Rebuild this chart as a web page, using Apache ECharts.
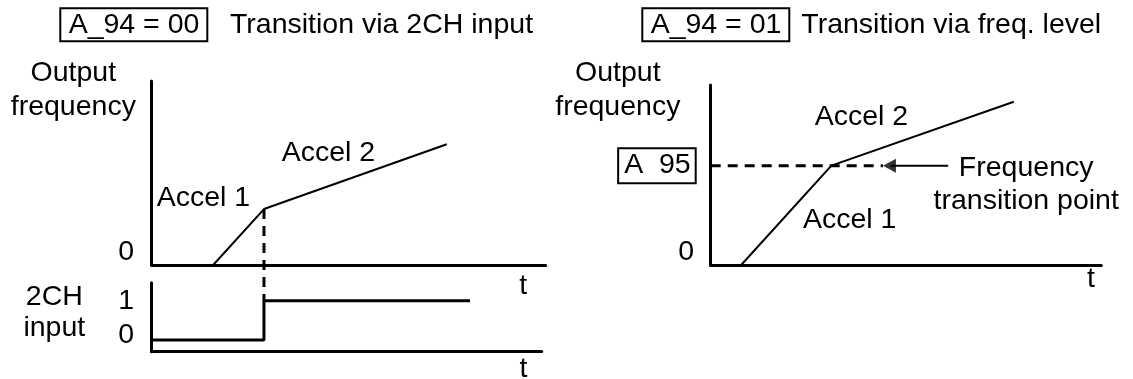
<!DOCTYPE html>
<html>
<head>
<meta charset="utf-8">
<script src="https://cdn.jsdelivr.net/npm/echarts@6/dist/echarts.min.js"></script>
<style>
  html, body { margin: 0; padding: 0; background: #fff; }
  #chart { width: 1133px; height: 379px; }
</style>
</head>
<body>
<div id="chart"></div>
<script>
// ---- Data (arbitrary time / frequency units) ----
// Left panel: A_94 = 00, transition via 2CH input
const leftAccelTime = [15.6, 28.5, 74.9];
const leftAccelFreq = [0, 30.4, 65.6];
const leftSwitchTime = 28.5;          // moment 2CH goes high
const leftSwitchFreq = 30.4;
const leftSwitchDashEnd = -19.4;      // dashed marker reaches down to the 2CH trace
const chTime = [0, 28.5, 28.5, 80.8];
const chLevel = [0, 0, 1, 1];
const leftFreqTicks = [0];
const leftFreqTickLabels = ['0'];
const chTicks = [0, 1];
const chTickLabels = ['0', '1'];

// Right panel: A_94 = 01, transition via frequency level
const rightAccelTime = [7.8, 30.9, 77.6];
const rightAccelFreq = [0, 55.2, 90.7];
const transitionFreq = 55.2;
const transitionDashEnd = 44.1;       // dashed level line ends at arrow tip
const arrowTail = 60.8;
const arrowTip = 44.1;
const rightFreqTicks = [0, 55.2];
const rightFreqTickLabels = ['0', 'A  95'];

// Text
const titles = [
  { box: 'A_94 = 00', text: 'Transition via 2CH input' },
  { box: 'A_94 = 01', text: 'Transition via freq. level' }
];
const yTitle = 'Output\nfrequency';
const chTitle = '2CH\ninput';
const timeName = 't';
const accel1 = 'Accel 1';
const accel2 = 'Accel 2';
const transitionNote = 'Frequency\ntransition point';

// ---- Chart ----
const FONT = '"Liberation Sans", Arial, Helvetica, sans-serif';
const FS = 28.5;
const BLACK = '#000';

function pairs(xs, ys) { return xs.map((x, i) => [x, ys[i]]); }

function xAxisCfg(gridIndex, max) {
  return {
    type: 'value', gridIndex, min: 0, max,
    axisLine: { show: true, onZero: false, lineStyle: { color: BLACK, width: 3 } },
    axisTick: { show: false }, axisLabel: { show: false }, splitLine: { show: false }
  };
}

function yAxisCfg(gridIndex, min, max, ticks, labels, margin, styleFor) {
  return {
    type: 'value', gridIndex, min, max,
    axisLine: { show: true, onZero: false, lineStyle: { color: BLACK, width: 3 } },
    axisTick: { show: false }, splitLine: { show: false },
    axisLabel: {
      show: true, customValues: ticks, margin,
      fontFamily: FONT, fontSize: FS, color: BLACK,
      formatter: function (v) {
        let idx = ticks.findIndex(t => Math.abs(t - v) < 1e-6);
        if (idx < 0) return '';
        return '{' + styleFor(idx) + '|' + labels[idx] + '}';
      },
      rich: {
        up: { fontFamily: FONT, fontSize: FS, color: BLACK, padding: [0, 0, 25, 0] },
        upR: { fontFamily: FONT, fontSize: FS, color: BLACK, padding: [0, 1.5, 25, 0] },
        mid: { fontFamily: FONT, fontSize: FS, color: BLACK },
        low: { fontFamily: FONT, fontSize: FS, color: BLACK, padding: [0, 0, 10, 0] },
        box: { fontFamily: FONT, fontSize: FS, color: BLACK, lineHeight: 28,
          borderColor: BLACK, borderWidth: 2, padding: [3, 5, 3, 6] }
      }
    }
  };
}

function lineSeries(xi, yi, data, width, dashed, clip) {
  return {
    type: 'line', xAxisIndex: xi, yAxisIndex: yi, data,
    showSymbol: false, symbol: 'none', silent: true, clip: clip !== false,
    lineStyle: { color: BLACK, width, type: dashed ? [10, 7] : 'solid', cap: 'butt' },
    emphasis: { disabled: true }, z: dashed ? 2 : 3
  };
}

function txt(text, x, y, align, lh) {
  return { type: 'text', x, y, silent: true, style: {
    text, font: FS + 'px ' + FONT, fill: BLACK, align, verticalAlign: 'middle',
    lineHeight: lh || FS } };
}

const chart = echarts.init(document.getElementById('chart'), null, { renderer: 'canvas' });

chart.setOption({
  backgroundColor: '#fff',
  animation: false,
  grid: [
    { left: 151.7, top: 81, width: 394, height: 184, outerBoundsMode: 'none', containLabel: false },
    { left: 151.7, top: 282.7, width: 390, height: 69, outerBoundsMode: 'none', containLabel: false },
    { left: 710.7, top: 85, width: 390.6, height: 180, outerBoundsMode: 'none', containLabel: false }
  ],
  xAxis: [
    xAxisCfg(0, 100),
    xAxisCfg(1, 99),
    xAxisCfg(2, 100)
  ],
  yAxis: [
    yAxisCfg(0, 0, 100, leftFreqTicks, leftFreqTickLabels, 17.5, () => 'up'),
    yAxisCfg(1, -0.3, 1.46, chTicks, chTickLabels, 17.5, i => chTicks[i] === 0 ? 'low' : 'mid'),
    yAxisCfg(2, 0, 100, rightFreqTicks, rightFreqTickLabels, 15, i => rightFreqTicks[i] === 0 ? 'upR' : 'box')
  ],
  series: [
    lineSeries(0, 0, pairs(leftAccelTime, leftAccelFreq), 2, false),
    lineSeries(0, 0, [[leftSwitchTime, leftSwitchFreq], [leftSwitchTime, leftSwitchDashEnd]], 3, true, false),
    lineSeries(1, 1, pairs(chTime, chLevel), 3, false),
    lineSeries(2, 2, pairs(rightAccelTime, rightAccelFreq), 2, false),
    lineSeries(2, 2, [[0, transitionFreq], [transitionDashEnd, transitionFreq]], 3, true),
    lineSeries(2, 2, [[arrowTail, transitionFreq], [arrowTip + 2, transitionFreq]], 2, false),
    {
      type: 'scatter', xAxisIndex: 2, yAxisIndex: 2, silent: true,
      data: [[arrowTip, transitionFreq]],
      symbol: 'triangle', symbolRotate: 90, symbolSize: [14, 13], symbolOffset: [6.5, 0],
      itemStyle: { color: BLACK }, emphasis: { disabled: true }, z: 4
    }
  ],
  graphic: [
    { type: 'rect', silent: true, shape: { x: 60.3, y: 8.3, width: 147, height: 33 },
      style: { fill: 'none', stroke: BLACK, lineWidth: 2 } },
    { type: 'rect', silent: true, shape: { x: 642.3, y: 8.3, width: 147, height: 33 },
      style: { fill: 'none', stroke: BLACK, lineWidth: 2 } },
    txt(titles[0].box, 134, 25, 'center'),
    txt(titles[0].text, 230, 25, 'left'),
    txt(titles[1].box, 716, 25, 'center'),
    txt(titles[1].text, 801.3, 25, 'left'),
    txt(yTitle, 73.3, 90, 'center', 33.4),
    txt(yTitle, 617.8, 90, 'center', 33.4),
    txt(chTitle, 54.3, 312.5, 'center', 31.6),
    txt(accel1, 156.7, 198.3, 'left'),
    txt(accel2, 281.7, 152.7, 'left'),
    txt(accel2, 814.7, 117.3, 'left'),
    txt(accel1, 803, 220, 'left'),
    txt(transitionNote, 1026.2, 184.5, 'center', 32.4),
    txt(timeName, 523.3, 286, 'center'),
    txt(timeName, 523.5, 369, 'center'),
    txt(timeName, 1091, 279, 'center')
  ]
});
</script>
</body>
</html>
